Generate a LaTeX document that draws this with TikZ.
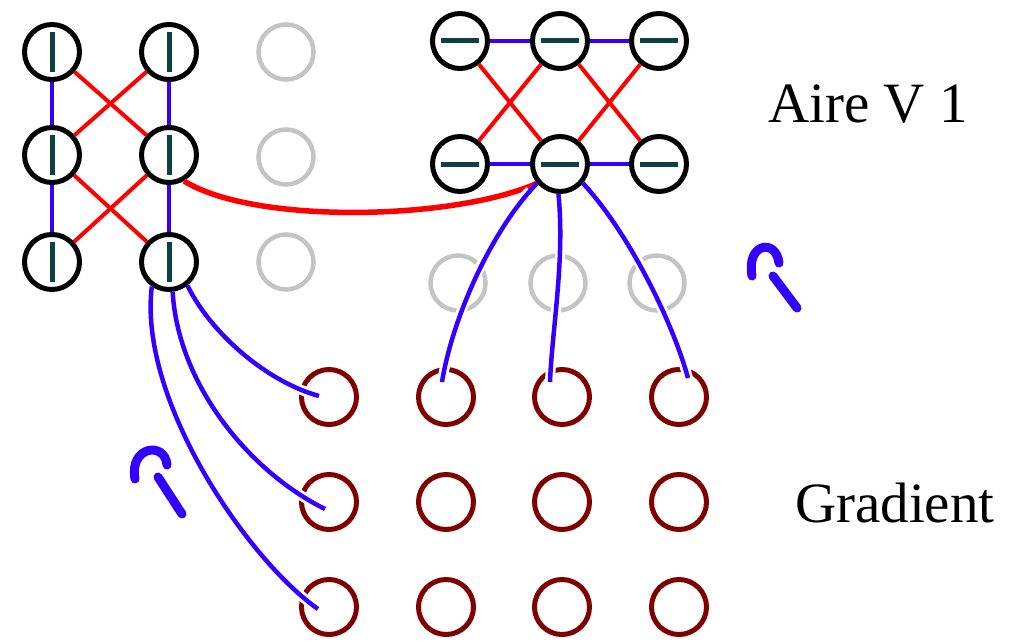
\documentclass[tikz,border=0pt]{standalone}
\usepackage{fontspec}
\setmainfont{Liberation Serif}
\usetikzlibrary{calc}
\definecolor{vblue}{RGB}{51,0,255}
\definecolor{dred}{RGB}{128,0,0}
\definecolor{lgray}{RGB}{196,196,196}
\definecolor{teal}{RGB}{14,66,66}
\tikzset{
  bnode/.style={circle,draw=black,line width=5pt,minimum size=55pt,inner sep=0pt},
  gnode/.style={circle,draw=lgray,line width=4.5pt,minimum size=55pt,inner sep=0pt},
  rnode/.style={circle,draw=dred,line width=5pt,minimum size=55pt,inner sep=0pt},
  blink/.style={draw=vblue,line width=4.5pt},
  bcurve/.style={draw=vblue,line width=4.5pt,preaction={draw=white,line width=10pt,shorten <=10pt}},
  rlink/.style={draw=red,line width=4pt},
  rcurve/.style={draw=red,line width=5.5pt},
  barmark/.style={draw=teal,line width=5pt},
  hook/.style={draw=vblue,line width=9pt,line cap=round},
  lbl/.style={anchor=base west,inner sep=0pt,font=\fontsize{57}{64}\selectfont}
}
\begin{document}
\begin{tikzpicture}[x=1pt,y=-1pt]
\useasboundingbox[fill=white] (0,0) rectangle (1018,642);
% gray circles
\node[gnode] (L13) at (286,52) {};
\node[gnode] (L23) at (286,157) {};
\node[gnode] (L33) at (286,262) {};
\node[gnode] (G1) at (458,283) {};
\node[gnode] (G2) at (558,283) {};
\node[gnode] (G3) at (657,283) {};
% red circles
\foreach \c/\x in {1/329,2/446,3/562,4/679}{
  \foreach \r/\y in {1/397,2/502,3/607}{
    \node[rnode] (D\r\c) at (\x,\y) {};
  }
}
% left cluster
\node[bnode] (L11) at (52,52) {};
\node[bnode] (L12) at (169,52) {};
\node[bnode] (L21) at (52,155) {};
\node[bnode] (L22) at (169,155) {};
\node[bnode] (L31) at (52,262) {};
\node[bnode] (L32) at (169,262) {};
\foreach \n in {L11,L12,L21,L22,L31,L32}{
  \draw[barmark] ([yshift=20pt]\n.center) -- ([yshift=-20pt]\n.center);
}
% right cluster
\node[bnode] (R11) at (460,41) {};
\node[bnode] (R12) at (560,41) {};
\node[bnode] (R13) at (659,41) {};
\node[bnode] (R21) at (460,164) {};
\node[bnode] (R22) at (560,164) {};
\node[bnode] (R23) at (659,164) {};
\foreach \n in {R11,R12,R13,R21,R22,R23}{
  \draw[barmark] ([xshift=-19pt]\n.center) -- ([xshift=19pt]\n.center);
}
% left links
\draw[blink] (L11) -- (L21);
\draw[blink] (L21) -- (L31);
\draw[blink] (L12) -- (L22);
\draw[blink] (L22) -- (L32);
\draw[rlink] (L11) -- (L22);
\draw[rlink] (L12) -- (L21);
\draw[rlink] (L21) -- (L32);
\draw[rlink] (L22) -- (L31);
% right links
\draw[blink] (R11) -- (R12);
\draw[blink] (R12) -- (R13);
\draw[blink] (R21) -- (R22);
\draw[blink] (R22) -- (R23);
\draw[rlink] (R11) -- (R22);
\draw[rlink] (R12) -- (R21);
\draw[rlink] (R12) -- (R23);
\draw[rlink] (R13) -- (R22);
% red long curve
\draw[rcurve] (L22.-60) .. controls (255,225) and (455,220) .. (R22.-140);
% curve end points
\coordinate (e1) at (319,396);
\coordinate (e2) at (325,509);
\coordinate (e3) at (318,609);
\coordinate (f1) at (442,382);
\coordinate (f2) at (550,382);
\coordinate (f3) at (688,378);
% blue curves from left
\draw[bcurve] (L32.-52) .. controls (212,335) and (268,382) .. (e1);
\draw[bcurve] (L32.-83) .. controls (178,385) and (250,472) .. (e2);
\draw[bcurve] (L32.-125) .. controls (138,400) and (248,560) .. (e3);
% blue curves from right
\draw[bcurve] (R22.-140) .. controls (490,232) and (452,320) .. (f1);
\draw[bcurve] (R22.-93) .. controls (565,260) and (552,330) .. (f2);
\draw[bcurve] (R22.-40) .. controls (628,232) and (672,320) .. (f3);
% hooks
\draw[hook] (752,276) .. controls (746,243) and (776,238) .. (779,263);
\draw[hook] (773,276) -- (797,308);
\draw[hook] (135,479) .. controls (129,446) and (165,441) .. (167,465);
\draw[hook] (158,477) -- (182,514);
% labels
\node[lbl] (t1) at (768,122) {Aire V 1};
\node[lbl] (t2) at (795,522) {Gradient};
\end{tikzpicture}
\end{document}
